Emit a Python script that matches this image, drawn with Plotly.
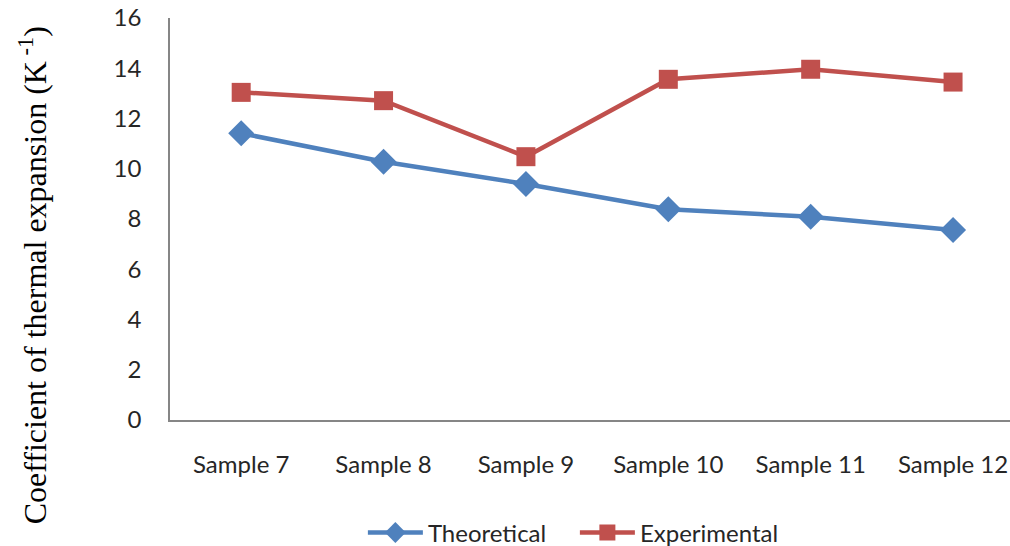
import plotly.graph_objects as go

samples = ["Sample 7", "Sample 8", "Sample 9", "Sample 10", "Sample 11", "Sample 12"]
theoretical = [11.41, 10.28, 9.39, 8.39, 8.09, 7.56]
experimental = [13.04, 12.71, 10.48, 13.56, 13.96, 13.45]
y_ticks = [0, 2, 4, 6, 8, 10, 12, 14, 16]

BLUE = "#4F81BD"
RED = "#C0504D"
TICK_FONT = dict(family="Lato, Liberation Sans, sans-serif", size=24, color="#262626")

fig = go.Figure()
fig.add_trace(go.Scatter(
    x=samples, y=theoretical, name="Theoretical", mode="lines+markers",
    line=dict(color=BLUE, width=4.5),
    marker=dict(symbol="diamond", size=20, color=BLUE),
))
fig.add_trace(go.Scatter(
    x=samples, y=experimental, name="Experimental", mode="lines+markers",
    line=dict(color=RED, width=4.5),
    marker=dict(symbol="square", size=19, color=RED),
))

fig.update_layout(
    width=1010, height=546,
    margin=dict(l=170, r=0, t=18, b=126),
    plot_bgcolor="white", paper_bgcolor="white",
    showlegend=True,
    legend=dict(
        orientation="h", x=0.482, xanchor="center",
        yref="container", y=0.024, yanchor="middle",
        font=dict(family="Lato, Liberation Sans, sans-serif", size=24, color="#262626"),
        itemwidth=55, entrywidth=142, entrywidthmode="pixels",
    ),
    xaxis=dict(
        type="category", range=[-0.5, 5.4], automargin=False,
        showline=True, linecolor="#868686", linewidth=1.5,
        showgrid=False, ticks="", tickfont=TICK_FONT,
        ticklabelstandoff=22,
    ),
    yaxis=dict(
        range=[0, 16], tickvals=y_ticks, automargin=False,
        showline=True, linecolor="#868686", linewidth=1.5,
        showgrid=False, ticks="", tickfont=TICK_FONT,
        ticklabelstandoff=22, zeroline=False,
    ),
    annotations=[dict(
        text="Coefficient of thermal expansion (K<sup> -1</sup>)",
        xref="paper", yref="paper", x=-0.163, y=0.36,
        xanchor="center", yanchor="middle", textangle=-90, showarrow=False,
        font=dict(family="Liberation Serif, Times New Roman, serif", size=32, color="black"),
    )],
)

fig.write_html("out.html")
